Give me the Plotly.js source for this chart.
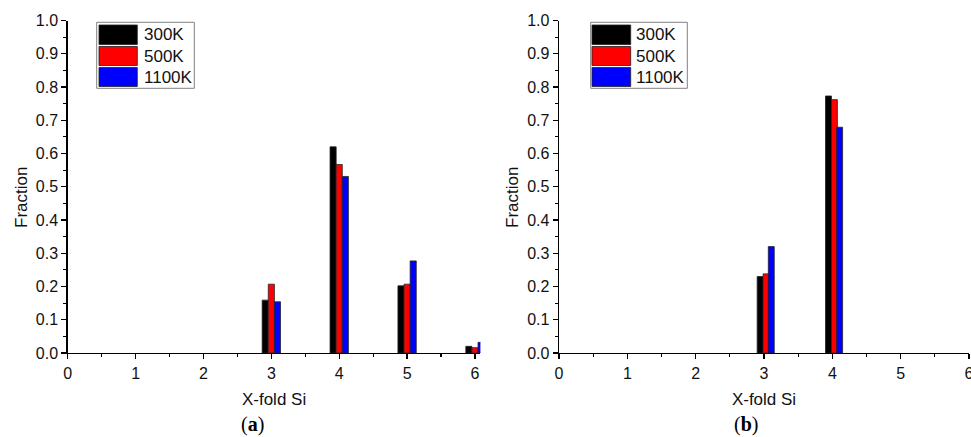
<!DOCTYPE html>
<html>
<head>
<meta charset="utf-8">
<script src="https://cdn.plot.ly/plotly-3.0.1.min.js"></script>
<style>html,body{margin:0;padding:0;background:#fff;}#chart{width:971px;height:437px;}</style>
</head>
<body>
<div id="chart"></div>
<script>
// ---- data ----
var seriesNames = ['300K', '500K', '1100K'];
var xA = [3, 4, 5, 6];
var a300 = [0.159, 0.62, 0.202, 0.02];
var a500 = [0.207, 0.567, 0.207, 0.016];
var a1100 = [0.154, 0.531, 0.277, 0.032];
var xB = [3, 4];
var b300 = [0.23, 0.773];
var b500 = [0.238, 0.762];
var b1100 = [0.32, 0.679];
var xTicks = [0, 1, 2, 3, 4, 5, 6];
var yTicks = [0, 0.1, 0.2, 0.3, 0.4, 0.5, 0.6, 0.7, 0.8, 0.9, 1.0];
var panelLabels = ['a', 'b'];
var xTitle = 'X-fold Si';
var yTitle = 'Fraction';

// ---- style ----
var W = 971, H = 437;
var colors = ['#000000', '#ff0000', '#0000ff'];
var edge = '#222222';
var fontFam = 'Liberation Sans, Arial, sans-serif';
function px(x) { return x / W; }
function py(y) { return 1 - y / H; }

var offA = [-0.135, -0.045, 0.045];
var offB = [-0.10, -0.013, 0.063];
var dataA = [a300, a500, a1100];
var dataB = [b300, b500, b1100];

var traces = [];
for (var i = 0; i < 3; i++) {
  traces.push({
    type: 'bar', x: xA, y: dataA[i], name: seriesNames[i],
    width: 0.09, offset: offA[i],
    marker: {color: colors[i], line: {color: edge, width: 0.8}},
    xaxis: 'x', yaxis: 'y', showlegend: false, cliponaxis: true
  });
}
for (var j = 0; j < 3; j++) {
  traces.push({
    type: 'bar', x: xB, y: dataB[j], name: seriesNames[j],
    width: 0.087, offset: offB[j],
    marker: {color: colors[j], line: {color: edge, width: 0.8}},
    xaxis: 'x2', yaxis: 'y2', showlegend: false, cliponaxis: true
  });
}

function xax(domain, range, anchor) {
  return {
    domain: domain, range: range, anchor: anchor,
    tickmode: 'array', tickvals: xTicks, ticktext: xTicks.map(String),
    ticks: 'outside', ticklen: 5, tickwidth: 1.2, tickcolor: '#000',
    minor: {dtick: 0.5, tick0: 0, ticks: 'outside', ticklen: 3, tickwidth: 1.2, tickcolor: '#000'},
    showline: true, linecolor: '#000', linewidth: 1.4,
    showgrid: false, zeroline: false,
    ticklabeloverflow: 'allow',
    tickfont: {family: fontFam, size: 16, color: '#111'},
    title: {text: xTitle, font: {family: fontFam, size: 17, color: '#111'}, standoff: 12},
    fixedrange: true
  };
}
function yax(domain, anchor) {
  return {
    domain: domain, range: [0, 1], anchor: anchor,
    tickmode: 'array', tickvals: yTicks, ticktext: yTicks.map(function (v) { return v.toFixed(1); }),
    ticks: 'outside', ticklen: 5, tickwidth: 1.2, tickcolor: '#000',
    minor: {dtick: 0.05, tick0: 0, ticks: 'outside', ticklen: 3, tickwidth: 1.2, tickcolor: '#000'},
    showline: true, linecolor: '#000', linewidth: 1.4,
    showgrid: false, zeroline: false,
    tickfont: {family: fontFam, size: 16, color: '#111'},
    fixedrange: true
  };
}

var yDom = [py(353), py(20.5)];

var shapes = [], annotations = [];
function addLegend(bx0, bx1, sx0, sx1, tx) {
  shapes.push({type: 'rect', xref: 'paper', yref: 'paper', x0: px(bx0), x1: px(bx1), y0: py(88.3), y1: py(22.3),
    line: {color: '#808080', width: 1}, fillcolor: 'rgba(255,255,255,1)', layer: 'above'});
  var rows = [[25, 44.5], [46.5, 65.5], [67.5, 86.5]];
  for (var k = 0; k < 3; k++) {
    shapes.push({type: 'rect', xref: 'paper', yref: 'paper', x0: px(sx0), x1: px(sx1), y0: py(rows[k][1]), y1: py(rows[k][0]),
      line: {color: edge, width: 0.8}, fillcolor: colors[k], layer: 'above'});
    annotations.push({xref: 'paper', yref: 'paper', x: px(tx), y: py((rows[k][0] + rows[k][1]) / 2),
      xanchor: 'left', yanchor: 'middle', showarrow: false, text: seriesNames[k],
      font: {family: fontFam, size: 17, color: '#111'}});
  }
}
addLegend(96.7, 194.3, 99, 137.3, 141.5);
addLegend(590.7, 687.3, 592, 630.7, 634);

// y titles
[21, 512].forEach(function (xx) {
  annotations.push({xref: 'paper', yref: 'paper', x: px(xx), y: py(198), textangle: -90,
    xanchor: 'center', yanchor: 'middle', showarrow: false, text: yTitle,
    font: {family: fontFam, size: 17, color: '#111'}});
});
// panel labels
[[252.5, panelLabels[0]], [745.7, panelLabels[1]]].forEach(function (p) {
  annotations.push({xref: 'paper', yref: 'paper', x: px(p[0]), y: py(424), borderpad: 0,
    xanchor: 'center', yanchor: 'middle', showarrow: false, text: '(<b>' + p[1] + '</b>)',
    font: {family: 'Liberation Serif, DejaVu Serif, serif', size: 20, color: '#000'}});
});

var layout = {
  width: W, height: H,
  margin: {l: 0, r: 0, t: 0, b: 0},
  paper_bgcolor: '#fff', plot_bgcolor: 'rgba(0,0,0,0)',
  barmode: 'overlay',
  showlegend: false,
  xaxis: xax([px(67.7), px(480.4)], [0, 6.08], 'y'),
  yaxis: yax(yDom, 'x'),
  xaxis2: xax([px(559), px(969)], [0, 6], 'y2'),
  yaxis2: yax(yDom, 'x2'),
  shapes: shapes,
  annotations: annotations
};

Plotly.newPlot('chart', traces, layout, {staticPlot: true, displayModeBar: false});
</script>
</body>
</html>
